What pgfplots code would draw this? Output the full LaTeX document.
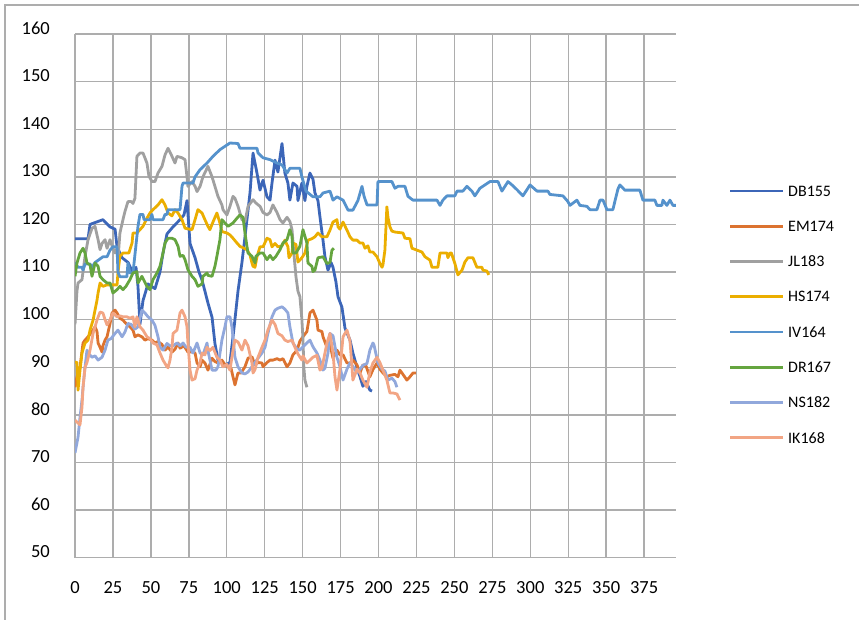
\documentclass[border=0pt]{standalone}
\usepackage{pgfplots}
\pgfplotsset{compat=1.18}
\usepackage{fontspec}
\setmainfont{Carlito}
\definecolor{cDB}{HTML}{3C66B8}
\definecolor{cEM}{HTML}{DC7330}
\definecolor{cJL}{HTML}{A0A0A0}
\definecolor{cHS}{HTML}{EBAE00}
\definecolor{cIV}{HTML}{5592CC}
\definecolor{cDR}{HTML}{65A53F}
\definecolor{cNS}{HTML}{91A8DC}
\definecolor{cIK}{HTML}{F2A584}
\definecolor{gridc}{HTML}{ADADAD}
\begin{document}
\begin{tikzpicture}
\useasboundingbox (0,0) rectangle (859pt,620pt);
\draw[color=gridc, line width=1.4pt] (5pt,0pt) -- (5pt,615pt) -- (859pt,615pt);
\begin{axis}[
  at={(75pt,62.3pt)}, anchor=south west,
  scale only axis, width=601pt, height=523.7pt,
  xmin=0, xmax=396, ymin=50, ymax=160,
  xtick={0,25,...,375}, ytick={50,60,...,160},
  grid=major,
  grid style={color=gridc, line width=1.4pt},
  axis line style={draw=none},
  major tick length=0pt,
  /pgf/number format/assume math mode=true,
  tick label style={font=\fontsize{18.5}{20}\selectfont},
  xticklabel style={inner sep=0pt, anchor=north, yshift=-24pt},
  yticklabel style={inner sep=0pt, anchor=east, xshift=-25pt, yshift=6pt},
  every axis plot/.append style={line width=2.8pt, mark=none, line join=round},
]
\addplot[cDB] coordinates {(0,117) (8.6,117) (9.9,120) (18.4,121) (23,119.5) (26.4,119) (27.7,115.3) (31,113) (35,112) (38.2,109.8) (40.2,111) (41.5,107) (42.8,99) (44.8,104) (48.1,107.5) (52.7,106.5) (56,110) (58,114) (60.6,118) (64.6,119.5) (69.2,121) (71.8,122) (73.8,125) (75.8,116) (79.1,113) (81.7,110) (83.7,108.3) (85.6,106) (87.6,103.5) (90.3,100.5) (92.2,95) (94.2,91.5) (96.8,91) (99.5,90.5) (102.1,91) (104.7,98) (107.4,106) (110,112) (112,117.4) (115.3,126.6) (117.3,135) (119.9,130.8) (121.9,127.2) (123.9,129.3) (126.5,125.8) (128.5,125.1) (129.8,128.7) (131.8,133.5) (133.7,131) (136.4,137) (138.3,130.8) (140.3,128.7) (141.6,125.1) (143.6,128.7) (146.3,128) (146.9,125) (149.5,128.7) (151.5,125) (152.8,128) (154.8,130.8) (156.8,129.5) (158.1,126.6) (160.1,125) (161.4,121.6) (163.4,116.7) (164.7,113.2) (166.7,110.4) (168.7,112) (170,111) (171.9,108) (173.3,104.8) (175.9,102.6) (177.9,98.2) (181.2,95.7) (183.1,93) (185.8,90) (187.8,88) (189.7,86) (191.7,87) (194.3,85.2) (195.7,85)};
\addplot[cEM] coordinates {(0,85.8) (1.3,88) (3.3,90) (5.3,95.1) (6.6,95.7) (8.6,96.4) (11.9,97.8) (13.2,98.5) (14.5,97.5) (15.2,95.1) (16.5,94.2) (17.8,93.2) (18.4,94.5) (19.8,95.7) (21.1,96.4) (23.1,99.2) (24.4,101.4) (26.4,102) (27.7,101.4) (29.6,100.3) (31.6,99.9) (34.2,99) (36.2,98.5) (38.2,97.8) (39.5,96.4) (41.5,96.8) (44.1,96.4) (46.1,95.7) (48.1,96) (50.7,95.7) (52.7,95.1) (54.7,95.4) (57.3,94.8) (59.3,93.6) (61.3,94.2) (63.9,93.2) (65.9,93.8) (67.9,95.1) (69.2,94) (71.8,94.5) (74.4,93.2) (77.1,93.2) (79.1,93) (80.4,90.9) (82.4,90.1) (83.7,91.5) (85.6,90.9) (87.6,89.4) (90.3,91.9) (92.2,91.2) (94.2,90.9) (96.8,91.5) (98.8,90.5) (100.8,90.1) (102.8,89.8) (104.1,88) (105.4,86.3) (107.4,88.8) (109.4,88.8) (112,90.1) (114,91.9) (116.6,92.2) (118.6,90.5) (120.6,91) (123.2,90.9) (123.9,90.1) (126.5,91) (128.5,91.5) (130.4,91.5) (133.1,91.8) (135.1,91.5) (137,91.8) (139.7,90.1) (141.6,90.9) (143.6,92.6) (146.3,93.6) (148.2,95.5) (150.2,96.4) (152.8,97.5) (154.8,101.4) (156.8,102) (159.4,99.9) (160.1,97.8) (162.7,97.5) (163.4,96.4) (166,94.2) (168,94.8) (170,91.9) (172.6,93.6) (174.6,92.6) (176.6,92.6) (179.2,90.9) (181.2,90.9) (183.1,91.5) (185.8,90.5) (187.8,88.8) (189.7,90.5) (191.7,90.3) (194.3,88) (196.3,89.5) (199,90.9) (200.9,89.6) (202.9,88.8) (205.5,88) (207.5,88.3) (210.8,88.5) (212.8,88) (214.1,89.4) (216.1,88.5) (218.7,87.3) (220.7,88) (222.7,88.8) (224.6,88.8)};
\addplot[cJL] coordinates {(0,99) (1.3,106) (2,107.7) (4.6,108.4) (6.6,113.3) (8.6,116.8) (11.2,119.2) (13.2,119.6) (15.2,116.8) (16.5,114.7) (17.8,116) (19.8,116.8) (21.1,115) (23.1,116.8) (24.4,115.5) (26.4,114) (27.7,115) (28.3,112.6) (29.6,118.2) (31.6,121) (32.9,122.7) (34.9,124.8) (37,124.8) (38.2,124.4) (39.5,125.5) (40.8,134.3) (42.8,135) (44.8,135) (47.4,132.9) (48.7,130.2) (50.7,129) (52.7,129) (54.7,130.8) (57.3,132.2) (59.3,134.6) (61.3,136) (63.9,134.3) (65.9,132.9) (67.2,134.3) (70.5,134) (72.5,133.6) (73.8,130) (74.4,128) (77.1,129) (79.1,128) (80.4,126.9) (82.4,128) (84.3,130) (87.6,132.2) (90.3,130) (92.2,128) (94.2,125.9) (96.8,124.1) (97.5,123.1) (100.1,122) (102.1,123.8) (104.1,125.9) (105.4,125.5) (107.4,123.8) (110,121) (112,120.6) (114,123.8) (117.3,125.2) (119.2,124.5) (121.9,123.8) (123.9,122.5) (126.5,122) (128.5,122.5) (130.4,124.1) (133.1,122.5) (135.1,121) (137,120.3) (139.7,121.5) (141.6,120.6) (143,118.9) (144.2,114) (145.6,109) (146.9,106) (148.2,104.8) (149.5,100) (150.2,96) (150.8,90) (151.5,87.3) (152.8,85.8)};
\addplot[cHS] coordinates {(0,91.1) (1.3,91) (2,85.2) (3.3,89.4) (4.6,93) (6.6,95.1) (8.6,95.7) (9.9,97.8) (11.9,99.9) (14.5,104.1) (15.2,105.6) (16.5,107.7) (18.4,107) (21.1,107.3) (27.7,107.3) (28.3,109.8) (29.6,113.3) (31.6,114) (35.5,114) (37.6,116.1) (38.2,118.2) (40.8,118.2) (42.8,118.9) (44.8,119.6) (47.4,121.3) (49.4,122.4) (51.4,123.1) (54.7,124.1) (57.3,125.2) (59.3,124.1) (61.3,122.4) (63.9,121.8) (65.9,123.1) (67.9,122.4) (70.5,121) (72.5,119.2) (77.1,118.9) (79.1,121) (81,123.1) (83.7,122.4) (85.6,121) (87.6,119.6) (88.9,118.9) (90.9,120.5) (93.5,122.4) (95.5,120.3) (96.8,118.5) (100.1,118.2) (102.1,117.8) (104.1,117.1) (106.7,116.1) (108.7,115.4) (111.3,115) (113.3,114.7) (115.3,113.6) (116.6,111.9) (117.3,111.2) (118.6,111) (119.9,113.2) (121.9,115.3) (123.9,115.3) (126.5,117.1) (128.5,116.8) (129.8,115.3) (131.8,116) (133.7,115.3) (136.4,115.5) (138.3,116.7) (140.3,115.3) (141,113) (143,114) (143.6,116.1) (145.6,115.8) (146.9,112.1) (149.5,113) (151.5,114) (153.5,116.7) (156.1,117) (158.1,117.4) (160.1,118.2) (162.7,117.4) (166,117.4) (168,118.8) (170,120.5) (172.6,121) (173.3,119.5) (174.6,119) (176.6,120.5) (179.2,118.8) (181.2,117.4) (183.1,116.7) (185.8,116.7) (187.8,116.1) (189.7,116.1) (191.1,115) (193,115.5) (194.3,114.2) (196.3,114.2) (199,113.2) (200.9,111.8) (202.3,111) (202.9,111.5) (204.2,114.6) (205.5,123.7) (206.2,121.5) (207.5,119.5) (208.8,118.6) (210.8,118.4) (216.1,118.2) (217.4,117.1) (220.7,117) (222,115) (225.3,114.6) (228.6,114.2) (230.6,113.2) (233.9,112.5) (235.2,111) (239.1,111) (240.5,114) (245.1,114) (245.7,113) (247.1,114) (248,114) (250.3,111.8) (252.3,109.4) (255,110.4) (256.9,112.1) (258.9,113) (262.2,113) (264.8,111) (268.1,111) (268.8,110.4) (271.4,110.2) (272.7,109.4)};
\addplot[cIV] coordinates {(0,112) (2,111) (4.6,111) (5.3,110.4) (6.6,111.7) (9.9,111.7) (11.2,111) (13.2,112) (18.4,113.2) (21.1,113.2) (23.1,114.6) (25,115.3) (27.7,115.3) (28.3,110) (29.6,109) (34.2,109) (34.9,111.9) (36.2,109.8) (38.2,109.8) (41.5,119.6) (42.8,122.1) (44.8,122.1) (45.5,121) (49.4,121) (50.7,122.1) (51.4,121) (58,121) (59.3,122.1) (60.6,122.1) (61.3,123.1) (69.2,123.1) (70.5,128) (71.2,128.7) (77.7,128.7) (79.1,130) (82.4,131.5) (87,132.9) (90.9,134.3) (95.5,135.7) (102.1,137.1) (107.4,137) (108.7,136) (119.9,136) (120.6,135) (123.9,134) (128.5,133.6) (133.1,132.9) (136.4,132.5) (139.7,130.8) (141.6,131.8) (148.2,131.8) (149.5,130) (152.2,127) (156.8,125.8) (161.4,125.8) (163.4,126.6) (168,127) (170,125.1) (172.6,125.8) (176.6,125.1) (179.9,123) (183.1,123) (186.4,125) (189.1,128) (190.4,126) (192.4,124.1) (199,124.1) (199.6,129) (208.8,129) (210.8,127.6) (212.8,128) (217.4,128) (219.4,125.9) (222.7,125.1) (238.5,125.1) (240.5,124) (242.4,125.1) (245.1,126) (250.3,126) (251.7,127) (255.6,127) (258.2,128) (261.5,127) (263.5,126) (266.8,127.6) (270.1,128.3) (273.4,129) (278.7,129) (281.3,127) (285.3,129) (287.9,128.3) (291.2,127.3) (295.1,126) (297.8,127.3) (299.8,128.3) (304.4,127) (311.6,127) (312.9,126.3) (321.5,126) (324.8,124.8) (326.1,124) (330.7,125.1) (332.7,124) (337.3,123.8) (339.3,123.1) (343.9,123.1) (345.9,125.1) (347.9,125.1) (350.5,123.1) (354.4,123.1) (357.7,127.4) (359,128.3) (362.3,127.2) (372.2,127.2) (374.2,125.1) (382.1,125.1) (383.4,124) (386.7,124) (387.4,125.1) (390,124) (392,125.1) (394,124) (395.9,124)};
\addplot[cDR] coordinates {(0,109.1) (1.3,111.9) (3.3,114) (5.3,115) (6.6,114) (7.9,111.9) (9.9,111.5) (11.2,109.1) (13.2,111.9) (15.2,111.2) (16.5,109.1) (18.4,108.4) (21.1,107.7) (23.1,107.7) (25,105.6) (27.7,106.3) (29.6,107) (31.6,106.3) (33.6,107) (36.2,108.4) (38.2,109.8) (40.8,110.1) (41.5,107.7) (44.1,109.1) (47.4,107) (49.4,106.3) (51.4,108.4) (54,109.8) (56,111.2) (58,114) (59.3,116.1) (61.3,117.1) (63.9,117.1) (65.9,116.8) (67.9,115.4) (69.2,113.3) (71.2,113.5) (72.5,112.6) (74.4,110.5) (77.1,109.1) (79.1,108.4) (81,107) (83.7,107.5) (84.3,109.1) (87,109.8) (87.6,109.3) (90.3,109.1) (92.2,111.2) (93.5,113.3) (95.5,116.8) (96.8,121) (98.8,120.3) (100.8,119.6) (104.1,120.3) (106.7,121.3) (108.7,122) (110.7,121.5) (112,118.2) (113.3,115.4) (114,114) (116.6,113.3) (118.6,111.9) (119.2,113.3) (121.9,114) (123.9,114) (126.5,112.6) (128.5,113.5) (130.4,112.6) (132.4,113.3) (135.1,114.7) (137,116.1) (139.7,116.8) (141.6,118.9) (143,117.5) (143.6,114) (145.6,114) (148.2,115.4) (150.2,118.9) (152.8,116.1) (153.5,111.9) (156.1,111.2) (156.8,110.1) (158.1,110.4) (160.1,113) (163.4,113.2) (166,111.8) (168,112) (169.3,114.6) (170.6,115)};
\addplot[cNS] coordinates {(0,72) (2,75.3) (3.3,79.5) (4.6,83.1) (5.3,85.8) (6.6,90) (7.9,93.6) (8.6,93) (11.2,92.1) (13.2,92.4) (15.2,91.5) (17.8,92.1) (19.8,93.6) (21.7,95.7) (23.7,96) (26.4,97.1) (28.3,97.8) (31,96.4) (32.9,97.4) (34.9,99.2) (37,99) (39.5,98) (41.5,98.5) (44.1,102) (46.1,101.4) (48.1,100.6) (50.7,99.9) (52.7,98.8) (54.7,96.4) (56,94.2) (58,93.6) (60.6,95) (62.6,94.5) (64.6,94.5) (67.2,95.1) (69.2,94.5) (71.2,95.1) (73.2,94.2) (75.8,94.2) (77.7,93) (80.4,95.1) (82.4,93) (84.3,92.6) (87,95.1) (87.6,93.5) (90.3,89.4) (92.9,89.4) (94.2,90.1) (96.8,95.7) (98.8,98.5) (100.1,100.6) (102.1,100.6) (103.4,98.5) (105.4,92.1) (107.4,90.1) (110,88.8) (112,88.6) (114,89) (116.6,90.1) (118.6,91) (120.6,91.9) (123.2,93) (125.2,94.2) (127.1,97.1) (129.8,100.6) (131.8,102) (133.7,102.4) (136.4,102.7) (138.3,102.2) (140.3,101.4) (141.6,98.5) (143.6,95.1) (146.3,93.8) (148.2,93.6) (150.2,94.3) (152.8,95.1) (154.8,95.7) (156.8,94.3) (159.4,93) (161.4,91.5) (163.4,89.4) (164.7,89.8) (166.7,93) (168,97.1) (170,96.6) (172.6,92.1) (174.6,90.1) (176.6,87.3) (179.2,89.6) (181.2,90.9) (183.1,90.2) (185.8,88.8) (187.8,89.6) (189.7,90.4) (192.4,90.8) (194.3,93.6) (196.3,95.1) (197,94.7) (199.6,90.9) (202.3,89.6) (204.2,89.2) (206.2,87.3) (208.8,87.7) (210.8,87) (212.1,85.8)};
\addplot[cIK] coordinates {(0,78.9) (1.3,78.5) (3.3,77.9) (4.6,81.6) (5.3,85.8) (6.6,90) (7.9,91) (9.9,93.6) (11.9,97.1) (14.5,99.9) (16.5,101.6) (18.4,101.4) (19.8,100) (21.1,98.9) (23.1,100) (25,101.4) (27.7,100.6) (29.6,100.8) (31.6,100.6) (34.2,100.6) (36.2,100.3) (38.2,100.6) (39.5,98.5) (40.8,100.6) (42.8,98.5) (44.8,97.8) (47.4,96.4) (49.4,96) (51.4,95.1) (54,94.7) (56,93) (58,91.5) (60.6,90.1) (61.3,89.9) (62.6,91.5) (63.9,94.2) (64.6,97.1) (67.2,97.8) (69.2,101.4) (70.5,102) (72.5,100.6) (73.8,98.5) (74.4,95.1) (75.8,89.4) (77.1,87.3) (79.1,87.6) (80.4,89.4) (82.4,91) (83.7,93) (85.6,92.6) (87,94.2) (88.9,93.5) (90.9,94.2) (93.5,92.1) (95.5,91.5) (97.5,90.1) (100.1,90.6) (102.1,89.4) (104.1,93.6) (105.4,95.7) (107.4,95.3) (110,93.6) (112,95.7) (114,94.5) (116.6,90.9) (117.3,88.8) (118.6,89.5) (120.6,92.1) (123.2,94.2) (125.2,95.7) (127.1,97.8) (129.8,99.9) (131.8,99) (133.7,97.1) (136.4,96.6) (138.3,95.7) (140.3,95.4) (143,95.7) (144.9,94.2) (146.9,92.8) (149.5,91.5) (150.2,92.4) (152.8,90.9) (154.8,91.5) (156.8,92.1) (159.4,92.5) (161.4,89.4) (162.7,89.8) (166,95.1) (168,97.1) (170,93) (171.3,88) (172.6,85.2) (174.6,89.6) (176.6,96.4) (179.2,97.8) (181.2,95.5) (182.5,90.1) (183.1,87.3) (185.8,89.6) (187.8,88.8) (189.7,87.3) (192.4,85.8) (194.3,89) (196.3,90.9) (199,92.1) (200.9,91) (202.9,89.4) (205.5,87.3) (207.5,84.6) (209.5,84.6) (212.1,84.4) (214.1,83.1)};
\end{axis}
% legend (decoration only)
\foreach \c/\t/\yy in {cDB/DB155/429, cEM/EM174/393.75, cJL/JL183/358.5, cHS/HS174/323.25, cIV/IV164/288, cDR/DR167/252.75, cNS/NS182/217.5, cIK/IK168/182.25}{
  \draw[color=\c, line width=2.8pt] (730pt,\yy pt) -- (783pt,\yy pt);
  \node[anchor=west, inner sep=0pt, font=\fontsize{16}{18}\selectfont] at (788pt,\yy pt) {\t};
}
\end{tikzpicture}
\end{document}
